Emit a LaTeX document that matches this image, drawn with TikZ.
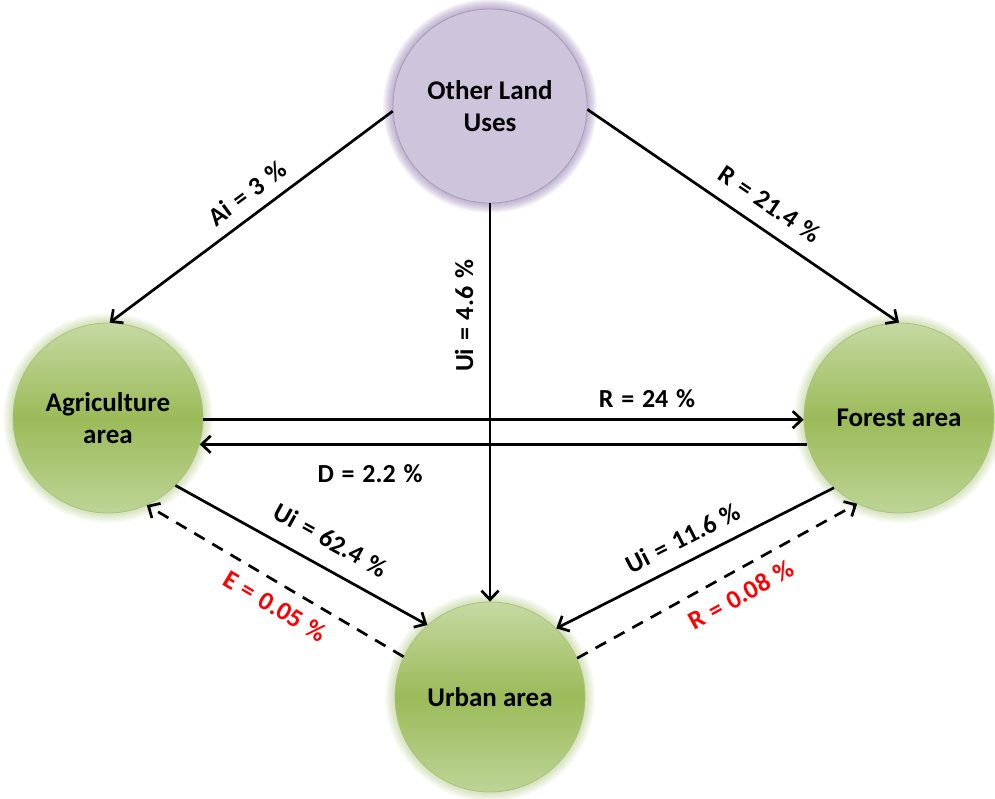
\documentclass[tikz,border=0pt]{standalone}
\usepackage{fontspec}
\setmainfont{Carlito}
\usetikzlibrary{arrows.meta,backgrounds}

\definecolor{lavender}{HTML}{CEC4DC}
\definecolor{lavedge}{HTML}{A99BBC}
\definecolor{purpleglow}{HTML}{8064A2}
\definecolor{greentop}{HTML}{C6D9A2}
\definecolor{greenmid}{HTML}{9BBB59}
\definecolor{greenbot}{HTML}{BDD496}
\definecolor{greenedge}{HTML}{A9C47A}
\definecolor{greenglow}{HTML}{9BBB59}
\definecolor{flowred}{HTML}{FF0000}

% label font with slightly wider word spaces
\newcommand\ratefont{\bfseries\fontsize{26}{30}\selectfont
  \spaceskip 0.3em plus 0.1em\relax}

\tikzset{
  landuse/.style={circle, minimum size=190pt, inner sep=0pt, align=center,
    font=\bfseries\fontsize{27}{32}\selectfont, line width=0.8pt},
  greenland/.style={landuse, draw=greenedge, top color=greentop,
    bottom color=greenbot, middle color=greenmid},
  otherland/.style={landuse, minimum size=194pt, draw=lavedge, fill=lavender},
  flow/.style={line width=2.7pt, -{Straight Barb[length=9pt,width=17pt]}},
  minorflow/.style={flow, dash pattern=on 12pt off 9pt},
  rate/.style={font=\ratefont, inner sep=0pt},
  minorrate/.style={rate, text=flowred},
}

\begin{document}
\begin{tikzpicture}[x=1pt, y=-1pt]
  \useasboundingbox (0,0) rectangle (995,798);

  % land-use classes
  \node[otherland] (other)  at (490,106) {Other Land\\Uses};
  \node[greenland] (agri)   at (108,418) {Agriculture\\area};
  \node[greenland] (forest) at (899,418) {Forest area};
  \node[greenland] (urban)  at (490,697) {Urban area};

  % soft halo around each circle
  \begin{scope}[on background layer]
    \fill[white] (0,0) rectangle (995,798);
    \foreach \i in {1,...,10}
      \fill[purpleglow, opacity=0.06] (other.center) circle[radius={97+\i}];
    \foreach \n in {agri, forest, urban}
      \foreach \i in {1,...,10}
        \fill[greenglow, opacity=0.045] (\n.center) circle[radius={95+\i}];
  \end{scope}

  % transitions
  \draw[flow] (other.183) -- (agri.89);
  \draw[flow] (other.358) -- (forest.90);
  \draw[flow] (other.south) -- (urban.north);
  \draw[flow] (agri.-1) -- (forest.181);
  \draw[flow] (forest.196.5) -- (agri.-16.5);
  \draw[flow] (agri.-45) -- (urban.131);
  \draw[flow] (forest.227) -- (urban.46);
  \draw[minorflow] (urban.155) -- (agri.-66);
  \draw[minorflow] (urban.24) -- (forest.244);

  % transition rates
  \node[rate, rotate=36.6]  (rAi)  at (247,193) {Ai = 3 \%};
  \node[rate, rotate=-34.1] (rRf)  at (770,204) {R = 21.4 \%};
  \node[rate, rotate=90]    (rUo)  at (464,316) {Ui = 4.6 \%};
  \node[rate]               (rRa)  at (647,399) {R = 24 \%};
  \node[rate]               (rD)   at (370,474) {D = 2.2 \%};
  \node[rate, rotate=-29]   (rUa)  at (331,540) {Ui = 62.4 \%};
  \node[rate, rotate=27]    (rUf)  at (683,538) {Ui = 11.6 \%};
  \node[minorrate, rotate=-30.6] (rE)  at (275,606) {E = 0.05 \%};
  \node[minorrate, rotate=29]    (rRu) at (741,595) {R = 0.08 \%};
\end{tikzpicture}
\end{document}
